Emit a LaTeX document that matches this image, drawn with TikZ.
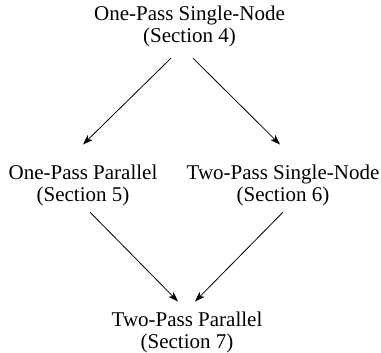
\documentclass[tikz,border=0pt]{standalone}
\usepackage{fontspec}
\setmainfont{Liberation Serif}
\usepackage{tikz}
\usetikzlibrary{arrows.meta}

\begin{document}
\begin{tikzpicture}[x=1pt, y=-1pt,
  passnode/.style={align=center, inner sep=0pt, anchor=base, font=\fontsize{21}{22}\selectfont},
  flow/.style={-{Stealth[length=10pt, width=7pt, inset=2.5pt]}, line width=0.8pt}]
\useasboundingbox (0,0) rectangle (381,353);

\node[passnode] (onesingle) at (189.5,43) {One-Pass Single-Node\\(Section 4)};
\node[passnode] (onepar) at (83,202) {One-Pass Parallel\\(Section 5)};
\node[passnode] (twosingle) at (283,202) {Two-Pass Single-Node\\(Section 6)};
\node[passnode] (twopar) at (187,348) {Two-Pass Parallel\\(Section 7)};

\draw[flow] ([xshift=-18.5pt, yshift=-10.5pt]onesingle.south) -- ([yshift=20.7pt]onepar.north);
\draw[flow] ([xshift=3.5pt, yshift=-10.5pt]onesingle.south) -- ([xshift=-3pt, yshift=20.7pt]twosingle.north);
\draw[flow] ([xshift=7pt, yshift=-5.5pt]onepar.south) -- ([xshift=-9pt, yshift=9.7pt]twopar.north);
\draw[flow] ([yshift=-5.5pt]twosingle.south) -- ([xshift=8pt, yshift=9.7pt]twopar.north);

\end{tikzpicture}
\end{document}
